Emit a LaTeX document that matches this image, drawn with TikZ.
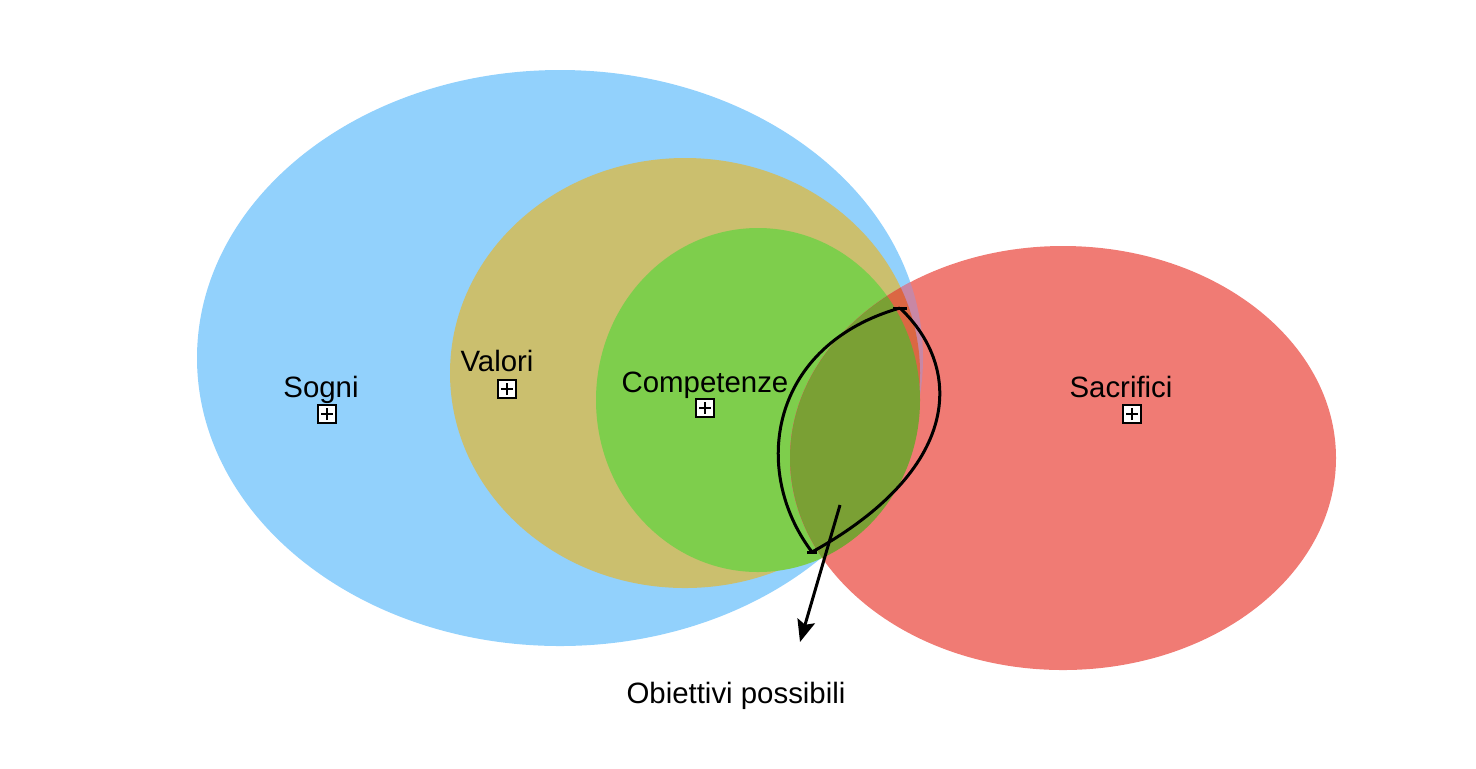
\documentclass[tikz,border=0pt]{standalone}
\usepackage{fontspec}
\setmainfont{Liberation Sans}
\usepackage{tikz}
\usetikzlibrary{arrows,arrows.meta}
\definecolor{sogniblue}{HTML}{92D1FC}
\definecolor{valoritan}{HTML}{CBBF6E}
\definecolor{compgreen}{HTML}{7ECE4C}
\definecolor{sacrred}{HTML}{F07B74}
\definecolor{redblue}{HTML}{C887A5}
\definecolor{redtan}{HTML}{DB6743}
\definecolor{redgreen}{HTML}{7AA034}
\tikzset{
    label/.style={font=\fontsize{14.7pt}{17pt}\selectfont,anchor=base,inner sep=0pt},
    expander/.style={draw,fill=white,minimum size=9pt,inner sep=0pt,line width=0.6pt,
        path picture={\draw[line width=0.6pt](path picture bounding box.center)++(-3pt,0)--++(6pt,0);
                      \draw[line width=0.6pt](path picture bounding box.center)++(0,-3pt)--++(0,6pt);}},
    leaf/.style={black,line width=1.5pt},
    pointer/.style={black,-{Stealth[length=11pt,width=9pt,inset=2pt]},line width=1.5pt}
}

\begin{document}
\begin{tikzpicture}[x=0.5pt,y=-0.5pt]
\useasboundingbox(0,0)rectangle(1476,768);
\fill[sogniblue](560,358)ellipse[x radius=363,y radius=288];
\fill[valoritan](685,373)ellipse[x radius=235,y radius=215];
\fill[compgreen](758,400)ellipse[x radius=162,y radius=172];
\fill[sacrred](1063,458)ellipse[x radius=273,y radius=212];
\begin{scope}
\clip(1063,458)ellipse[x radius=273,y radius=212];
\fill[redblue](560,358)ellipse[x radius=363,y radius=288];
\fill[redtan](685,373)ellipse[x radius=235,y radius=215];
\fill[redgreen](758,400)ellipse[x radius=162,y radius=172];
\end{scope}

\node[label](sogni)at(321,397){Sogni};
\node[label](valori)at(497,371){Valori};
\node[label](competenze)at(705,392){Competenze};
\node[label](sacrifici)at(1121,397){Sacrifici};
\node[expander](sogniBox)at(327,414){};
\node[expander](valoriBox)at(507,389){};
\node[expander](competenzeBox)at(705,408){};
\node[expander](sacrificiBox)at(1132,414){};

\coordinate(leafTop)at(900,308);
\coordinate(leafBottom)at(812,552);
\draw[leaf](leafTop)..controls(770,345)and(750,470)..(leafBottom);
\draw[leaf](leafTop)..controls(965,370)and(960,470)..(leafBottom);
\draw[leaf](leafTop)++(-7,0)--++(14,0);
\draw[leaf](leafBottom)++(-5,0)--++(10,0);

\coordinate(leafTip)at(840,505);
\coordinate(arrowEnd)at(800,642);
\draw[pointer](leafTip)--(arrowEnd);
\node[label](obiettivi)at(736,703){Obiettivi possibili};
\end{tikzpicture}
\end{document}
